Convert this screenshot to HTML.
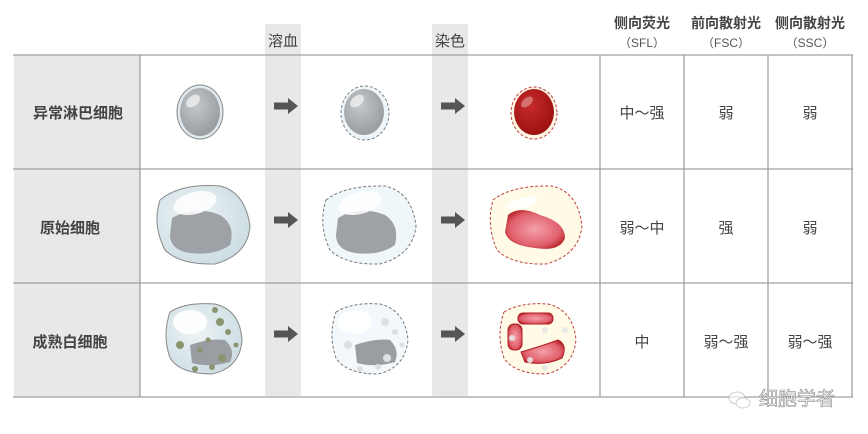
<!DOCTYPE html>
<html><head><meta charset="utf-8"><style>
html,body{margin:0;padding:0;background:#fff;}
svg{display:block;font-family:"Liberation Sans","Noto Sans CJK SC",sans-serif;}
</style></head><body>
<svg width="868" height="434" viewBox="0 0 868 434" xmlns="http://www.w3.org/2000/svg">
<defs>
<radialGradient id="gray" cx="0.4" cy="0.35" r="0.7"><stop offset="0" stop-color="#c4c8cb"/><stop offset="1" stop-color="#959a9e"/></radialGradient>
<radialGradient id="red" cx="0.4" cy="0.35" r="0.7"><stop offset="0" stop-color="#c82a2a"/><stop offset="1" stop-color="#9a1010"/></radialGradient>
<radialGradient id="cyto" cx="0.4" cy="0.4" r="0.7"><stop offset="0" stop-color="#eef4f6"/><stop offset="1" stop-color="#c9dbe1"/></radialGradient>
<radialGradient id="pink" cx="0.5" cy="0.5" r="0.6"><stop offset="0" stop-color="#f4a0aa"/><stop offset="0.7" stop-color="#e0606c"/><stop offset="1" stop-color="#b01c22"/></radialGradient>
<g id="arrow"><rect x="-12" y="-3.5" width="14" height="7" fill="#555"/><polygon points="2,-8 12,0 2,8" fill="#555"/></g>
</defs>
<!-- left gray column -->
<rect x="14" y="55" width="126" height="342" fill="#e8e8e8"/>
<!-- strips -->
<rect x="265" y="24" width="36" height="372" rx="2" fill="#e8e8e8"/>
<rect x="432" y="24" width="36" height="372" rx="2" fill="#e8e8e8"/>
<!-- horizontal lines -->
<g stroke="#a0a0a0" stroke-width="1.3">
<line x1="13" y1="55" x2="853" y2="55"/>
<line x1="13" y1="169" x2="853" y2="169"/>
<line x1="13" y1="283" x2="853" y2="283"/>
<line x1="13" y1="397" x2="853" y2="397"/>
<line x1="140" y1="55" x2="140" y2="397"/>
<line x1="600" y1="55" x2="600" y2="397"/>
<line x1="684" y1="55" x2="684" y2="397"/>
<line x1="768" y1="55" x2="768" y2="397"/>
<line x1="852" y1="55" x2="852" y2="397"/>
</g>
<!-- headers -->
<g fill="#444" font-size="15" text-anchor="middle">
<text x="283" y="46">溶血</text>
<text x="450" y="46">染色</text>
</g>
<g fill="#444" font-size="14" font-weight="bold" text-anchor="middle">
<text x="642" y="28">侧向荧光</text>
<text x="726" y="28">前向散射光</text>
<text x="810" y="28">侧向散射光</text>
</g>
<g fill="#555" font-size="12" text-anchor="middle">
<text x="642" y="47">（SFL）</text>
<text x="726" y="47">（FSC）</text>
<text x="810" y="47">（SSC）</text>
</g>
<!-- row labels -->
<g fill="#444" font-size="15" font-weight="bold" text-anchor="middle">
<text x="78" y="118">异常淋巴细胞</text>
<text x="70" y="233">原始细胞</text>
<text x="70" y="347">成熟白细胞</text>
</g>
<!-- values -->
<g fill="#444" font-size="15" text-anchor="middle">
<text x="642" y="118">中～强</text><text x="726" y="118">弱</text><text x="810" y="118">弱</text>
<text x="642" y="233">弱～中</text><text x="726" y="233">强</text><text x="810" y="233">弱</text>
<text x="642" y="347">中</text><text x="726" y="347">弱～强</text><text x="810" y="347">弱～强</text>
</g>
<!-- arrows -->
<use href="#arrow" x="286" y="106"/><use href="#arrow" x="453" y="106"/>
<use href="#arrow" x="286" y="220"/><use href="#arrow" x="453" y="220"/>
<use href="#arrow" x="286" y="334"/><use href="#arrow" x="453" y="334"/>
<!-- row1 cells -->
<ellipse cx="200" cy="112" rx="23" ry="27" fill="#dfe8ec" stroke="#888" stroke-width="1"/>
<ellipse cx="200" cy="112" rx="20" ry="24" fill="url(#gray)"/>
<ellipse cx="193" cy="101" rx="8" ry="5" fill="#fff" opacity="0.6" transform="rotate(-40 193 101)"/>
<ellipse cx="365" cy="113" rx="24" ry="27" fill="#eef5f8" stroke="#7a8088" stroke-width="1" stroke-dasharray="3,2"/>
<ellipse cx="364" cy="112" rx="20" ry="23" fill="url(#gray)"/>
<ellipse cx="357" cy="101" rx="8" ry="5" fill="#fff" opacity="0.6" transform="rotate(-40 357 101)"/>
<ellipse cx="534" cy="113" rx="23" ry="26" fill="#fdf6e4" stroke="#c04040" stroke-width="1" stroke-dasharray="3,2"/>
<ellipse cx="534" cy="112" rx="20" ry="23" fill="url(#red)"/>
<ellipse cx="527" cy="102" rx="7" ry="4" fill="#fff" opacity="0.35" transform="rotate(-40 527 102)"/>
<!-- row2 cells -->
<path d="M160,200 Q180,183 220,186 Q245,192 250,226 Q248,255 215,264 Q180,265 165,250 Q152,225 160,200Z" fill="url(#cyto)" stroke="#888" stroke-width="1"/>
<path d="M172,218 Q195,205 220,215 Q236,225 230,245 Q215,256 190,253 Q170,250 170,235Z" fill="#9ea2a6"/>
<ellipse cx="195" cy="203" rx="22" ry="11" fill="#fff" opacity="0.85" transform="rotate(-15 195 203)"/>
<path d="M326,200 Q345,185 385,186 Q412,192 416,226 Q413,255 380,264 Q345,265 330,250 Q318,225 326,200Z" fill="#f0f7fa" stroke="#777" stroke-width="1" stroke-dasharray="3,2"/>
<path d="M338,218 Q360,205 385,215 Q400,225 395,245 Q380,256 355,253 Q336,250 336,235Z" fill="#9ea2a6"/>
<ellipse cx="360" cy="203" rx="22" ry="11" fill="#fff" opacity="0.85" transform="rotate(-15 360 203)"/>
<path d="M493,200 Q512,185 552,186 Q578,192 582,226 Q579,255 546,264 Q512,265 497,250 Q486,225 493,200Z" fill="#fffbe6" stroke="#c04040" stroke-width="1" stroke-dasharray="3,2"/>
<path d="M508,215 Q520,205 540,215 Q565,222 565,238 Q560,252 535,248 Q508,245 505,232Z" fill="url(#pink)"/>
<ellipse cx="522" cy="203" rx="16" ry="5" fill="#fff" opacity="0.9" transform="rotate(-15 522 203)"/>
<!-- row3 cells -->
<path d="M170,312 Q185,302 215,304 Q240,310 242,340 Q240,368 212,374 Q180,374 170,358 Q162,335 170,312Z" fill="url(#cyto)" stroke="#888" stroke-width="1"/>
<path d="M190,345 Q210,338 225,340 Q236,350 230,362 Q210,368 192,363Z" fill="#9a9ea2"/>
<ellipse cx="190" cy="322" rx="17" ry="12" fill="#fff" opacity="0.9"/>
<g fill="#8a9470">
<circle cx="220" cy="322" r="4"/><circle cx="228" cy="332" r="3"/><circle cx="180" cy="345" r="4"/><circle cx="200" cy="350" r="3"/><circle cx="222" cy="358" r="4"/><circle cx="212" cy="367" r="3"/><circle cx="195" cy="369" r="3"/><circle cx="236" cy="345" r="2.5"/><circle cx="208" cy="340" r="2.5"/><circle cx="215" cy="310" r="3"/>
</g>
<path d="M336,312 Q352,302 380,304 Q405,310 408,340 Q405,368 378,374 Q346,374 336,358 Q328,335 336,312Z" fill="#f2f8fb" stroke="#777" stroke-width="1" stroke-dasharray="3,2"/>
<path d="M355,345 Q375,338 390,340 Q400,350 395,362 Q375,368 357,363Z" fill="#9a9ea2"/>
<ellipse cx="355" cy="322" rx="17" ry="12" fill="#fff" opacity="0.9"/>
<g fill="#dde0e3"><circle cx="385" cy="322" r="4"/><circle cx="395" cy="332" r="3"/><circle cx="348" cy="345" r="4"/><circle cx="387" cy="358" r="4"/><circle cx="378" cy="367" r="3"/><circle cx="360" cy="369" r="3"/><circle cx="402" cy="345" r="2.5"/></g>
<path d="M504,312 Q520,302 548,304 Q573,310 576,340 Q573,368 546,374 Q514,374 504,358 Q496,335 504,312Z" fill="#fffbe6" stroke="#c04040" stroke-width="1" stroke-dasharray="3,2"/>
<g fill="url(#pink)" stroke="#b01c22" stroke-width="1">
<rect x="518" y="313" width="35" height="11" rx="5"/>
<rect x="508" y="324" width="14" height="26" rx="6"/>
<path d="M521,352 Q545,345 558,340 Q568,345 562,358 Q545,366 525,362Z"/>
</g>
<g fill="#e6e6e6" opacity="0.9"><circle cx="545" cy="330" r="3"/><circle cx="565" cy="330" r="3"/><circle cx="512" cy="338" r="3"/><circle cx="545" cy="368" r="3"/><circle cx="530" cy="360" r="3"/></g>
<!-- watermark -->
<g opacity="0.7">
<ellipse cx="737" cy="398" rx="8" ry="6" fill="#fff" stroke="#aaa" stroke-width="0.8"/>
<ellipse cx="743" cy="403" rx="7" ry="5" fill="#fff" stroke="#aaa" stroke-width="0.8"/>
</g>
<text x="759" y="405" fill="#fff" stroke="#888" stroke-width="0.6" font-size="19">细胞学者</text>
</svg>
</body></html>
